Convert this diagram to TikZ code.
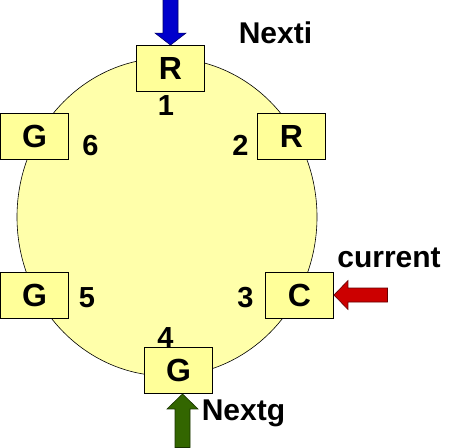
\documentclass[tikz,border=0pt]{standalone}
\usepackage{xcolor}
\usepackage{fontspec}
\setmainfont{Liberation Sans}
\usepackage{tikz}

\definecolor{ringfill}{RGB}{255,255,170}
\definecolor{slotfill}{RGB}{255,255,153}
\definecolor{ptrblue}{RGB}{0,0,204}
\definecolor{ptrred}{RGB}{204,0,0}
\definecolor{ptrgreen}{RGB}{51,102,0}

\tikzset{
  slot/.style={draw, line width=0.9pt, fill=slotfill, minimum width=68pt,
    minimum height=46pt, inner sep=0pt, font=\fontsize{32}{32}\selectfont\bfseries},
  idx/.style={anchor=base, inner sep=0pt, font=\fontsize{29}{29}\selectfont\bfseries},
  ptrlabel/.style={anchor=base, inner sep=0pt, font=\fontsize{30}{30}\selectfont\bfseries},
}

\begin{document}
\begin{tikzpicture}[x=1pt, y=-1pt]
\useasboundingbox (0,0) rectangle (476,447);

% ===== ring =====
\draw[line width=0.6pt, fill=ringfill] (167,217) ellipse [x radius=150pt, y radius=159pt];

% ===== slots =====
\node[slot] (s1) at (170.5,68.5) {R};
\node[slot] (s2) at (291.5,136) {R};
\node[slot] (s3) at (299.5,295) {C};
\node[slot] (s4) at (178.5,370.5) {G};
\node[slot] (s5) at (34.5,295) {G};
\node[slot] (s6) at (34.5,136.5) {G};

% ===== slot numbers =====
\node[idx] (n1) at (166,115) {1};
\node[idx] (n2) at (240.5,155) {2};
\node[idx] (n3) at (245.5,307) {3};
\node[idx] (n4) at (165.5,347) {4};
\node[idx] (n5) at (87,307) {5};
\node[idx] (n6) at (90.5,155) {6};

% ===== pointer labels =====
\node[ptrlabel] (nexti) at (275.5,43) {Nexti};
\node[ptrlabel] (curr) at (389,267) {current};
\node[ptrlabel] (nextg) at (243.5,420) {Nextg};

% ===== pointer arrows =====
\draw[line width=0.6pt, draw=ptrblue!50!black, fill=ptrblue, shift={(s1.north)}]
  (0,0) -- (-15.5,-12) -- (-7.5,-12) -- (-7.5,-45.5) -- (7.5,-45.5) -- (7.5,-12) -- (15.5,-12) -- cycle;
\draw[line width=0.6pt, draw=ptrred!50!black, fill=ptrred, shift={(s3.east)}]
  (0,0) -- (14,-14.5) -- (14,-7) -- (53.5,-7) -- (53.5,7) -- (14,7) -- (14,14.5) -- cycle;
\draw[line width=0.6pt, draw=ptrgreen!50!black, fill=ptrgreen, shift={(s4.south)}]
  (4,0) -- (-11.5,15) -- (-3.5,15) -- (-3.5,53.5) -- (11.5,53.5) -- (11.5,15) -- (19.5,15) -- cycle;
\end{tikzpicture}
\end{document}
